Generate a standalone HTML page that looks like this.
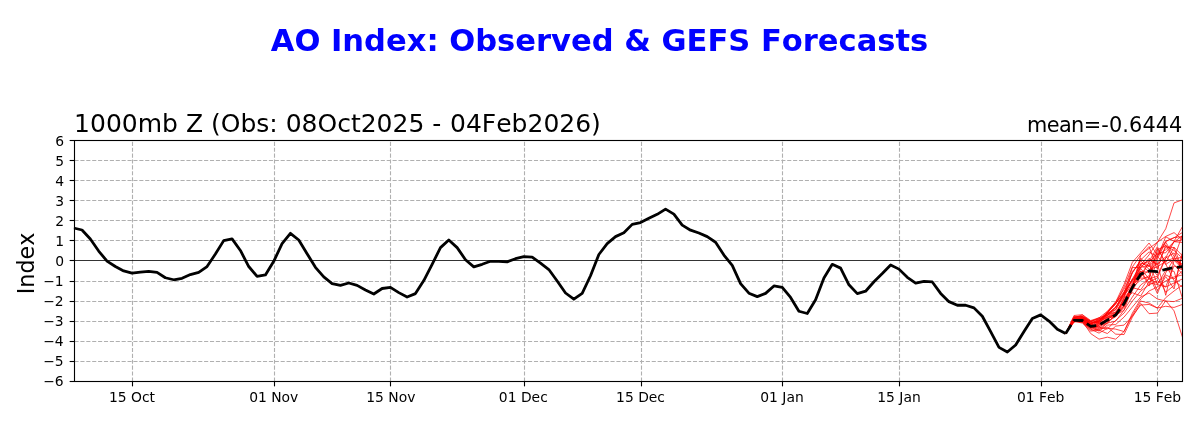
<!DOCTYPE html>
<html lang="en"><head><meta charset="utf-8"><title>AO Index: Observed &amp; GEFS Forecasts</title>
<style>html,body{margin:0;padding:0;background:#fff}body{width:1200px;height:430px;overflow:hidden}svg{display:block;will-change:transform;opacity:0.9999}text{font-kerning:none;font-family:"DejaVu Sans","Liberation Sans",sans-serif;fill:#000}.g{stroke:#b0b0b0;stroke-width:1.11;stroke-dasharray:4.11 1.78;fill:none}.t{stroke:#000;stroke-width:1.11}.m{stroke:#f00;stroke-width:0.72;fill:none;stroke-linejoin:round}.yl{font-size:13.89px;text-anchor:end}.xl{font-size:13.89px;text-anchor:middle}</style></head><body>
<svg width="1200" height="430" viewBox="0 0 1200 430">
<rect width="1200" height="430" fill="#fff"/>
<defs><clipPath id="ax"><rect x="73.67" y="139.84" width="1108.73" height="241.23"/></clipPath></defs>
<text x="599.5" y="50.8" text-anchor="middle" style="font-size:30.56px;font-weight:bold;fill:#00f">AO Index: Observed &amp; GEFS Forecasts</text>
<text x="74.1" y="131.9" style="font-size:25px">1000mb Z (Obs: 08Oct2025 - <tspan dx="0.8">04Feb2026)</tspan></text>
<text x="1182.5" y="131.9" text-anchor="end" style="font-size:20.83px"><tspan letter-spacing="-0.6">mean</tspan><tspan letter-spacing="0.12">=-0.6444</tspan></text>
<text transform="translate(34.3,263.4) rotate(-90)" text-anchor="middle" style="font-size:22.22px">Index</text>
<g class="g">
<path d="M132.5,381.5 V140.5"/>
<path d="M274.5,381.5 V140.5"/>
<path d="M390.5,381.5 V140.5"/>
<path d="M524.5,381.5 V140.5"/>
<path d="M641.5,381.5 V140.5"/>
<path d="M782.5,381.5 V140.5"/>
<path d="M899.5,381.5 V140.5"/>
<path d="M1041.5,381.5 V140.5"/>
<path d="M1157.5,381.5 V140.5"/>
<path d="M74.5,361.5 H1182.5"/>
<path d="M74.5,341.5 H1182.5"/>
<path d="M74.5,321.5 H1182.5"/>
<path d="M74.5,301.5 H1182.5"/>
<path d="M74.5,281.5 H1182.5"/>
<path d="M74.5,240.5 H1182.5"/>
<path d="M74.5,220.5 H1182.5"/>
<path d="M74.5,200.5 H1182.5"/>
<path d="M74.5,180.5 H1182.5"/>
<path d="M74.5,160.5 H1182.5"/>
</g>
<g clip-path="url(#ax)">
<g class="m">
<path d="M1065.69,333.55 L1074.03,319.10 L1082.36,318.10 L1090.70,323.12 L1099.03,321.11 L1107.37,315.09 L1115.71,307.06 L1124.04,295.02 L1132.38,278.96 L1140.72,264.91 L1149.05,254.88 L1157.39,242.23 L1165.73,228.79 L1174.06,202.90 L1182.40,199.89 L1190.73,200.69 L1199.07,202.70"/>
<path d="M1065.69,333.55 L1074.03,320.11 L1082.36,321.11 L1090.70,333.55 L1099.03,339.17 L1107.37,337.17 L1115.71,339.17 L1124.04,331.55 L1132.38,313.08 L1140.72,299.03 L1149.05,291.00 L1157.39,286.99 L1165.73,280.97 L1174.06,276.96 L1182.40,274.95 L1190.73,272.94 L1199.07,270.94"/>
<path d="M1065.69,333.55 L1074.03,321.11 L1082.36,322.11 L1090.70,330.14 L1099.03,329.14 L1107.37,327.13 L1115.71,334.16 L1124.04,334.56 L1132.38,317.10 L1140.72,303.45 L1149.05,313.68 L1157.39,313.08 L1165.73,300.64 L1174.06,310.87 L1182.40,336.97 L1190.73,345.19 L1199.07,341.18"/>
<path d="M1065.69,333.55 L1074.03,321.11 L1082.36,323.12 L1090.70,331.14 L1099.03,330.14 L1107.37,333.55 L1115.71,326.13 L1124.04,325.12 L1132.38,316.09 L1140.72,305.05 L1149.05,304.45 L1157.39,308.06 L1165.73,297.63 L1174.06,291.00 L1182.40,284.98 L1190.73,280.97 L1199.07,276.96"/>
<path d="M1065.69,333.55 L1074.03,320.71 L1082.36,322.11 L1090.70,329.14 L1099.03,333.15 L1107.37,328.13 L1115.71,329.14 L1124.04,331.55 L1132.38,315.09 L1140.72,301.04 L1149.05,303.05 L1157.39,308.06 L1165.73,306.26 L1174.06,307.46 L1182.40,304.45 L1190.73,301.04 L1199.07,299.03"/>
<path d="M1065.69,333.55 L1074.03,319.10 L1082.36,320.11 L1090.70,327.13 L1099.03,331.14 L1107.37,325.12 L1115.71,324.52 L1124.04,317.10 L1132.38,307.06 L1140.72,297.03 L1149.05,293.01 L1157.39,299.03 L1165.73,301.04 L1174.06,301.64 L1182.40,298.23 L1190.73,295.02 L1199.07,293.01"/>
<path d="M1065.69,333.55 L1074.03,319.50 L1082.36,321.11 L1090.70,328.13 L1099.03,327.13 L1107.37,329.14 L1115.71,320.31 L1124.04,313.08 L1132.38,301.04 L1140.72,291.00 L1149.05,284.98 L1157.39,280.97 L1165.73,286.99 L1174.06,282.98 L1182.40,278.96 L1190.73,276.96 L1199.07,274.95"/>
<path d="M1065.69,333.55 L1074.03,320.11 L1082.36,320.71 L1090.70,326.13 L1099.03,330.14 L1107.37,323.12 L1115.71,321.11 L1124.04,310.07 L1132.38,297.03 L1140.72,284.98 L1149.05,278.96 L1157.39,282.98 L1165.73,274.95 L1174.06,278.96 L1182.40,270.94 L1190.73,268.93 L1199.07,266.92"/>
<path d="M1065.69,333.55 L1074.03,315.49 L1082.36,314.69 L1090.70,320.51 L1099.03,317.90 L1107.37,311.28 L1115.71,302.04 L1124.04,284.38 L1132.38,262.30 L1140.72,252.87 L1149.05,243.04 L1157.39,254.88 L1165.73,249.86 L1174.06,241.83 L1182.40,235.81 L1190.73,236.82 L1199.07,238.82"/>
<path d="M1065.69,333.55 L1074.03,317.10 L1082.36,316.09 L1090.70,321.11 L1099.03,319.10 L1107.37,313.08 L1115.71,304.05 L1124.04,286.99 L1132.38,266.92 L1140.72,254.88 L1149.05,248.46 L1157.39,242.23 L1165.73,236.41 L1174.06,232.60 L1182.40,239.83 L1190.73,242.84 L1199.07,244.84"/>
<path d="M1065.69,333.55 L1074.03,318.10 L1082.36,317.50 L1090.70,322.11 L1099.03,320.11 L1107.37,314.09 L1115.71,307.06 L1124.04,293.01 L1132.38,272.94 L1140.72,259.90 L1149.05,251.87 L1157.39,256.89 L1165.73,236.82 L1174.06,241.23 L1182.40,226.78 L1190.73,228.79 L1199.07,230.79"/>
<path d="M1065.69,333.55 L1074.03,322.07 L1082.36,321.09 L1090.70,327.17 L1099.03,328.50 L1107.37,322.68 L1115.71,314.75 L1124.04,300.06 L1132.38,292.73 L1140.72,295.98 L1149.05,281.91 L1157.39,277.88 L1165.73,257.89 L1174.06,252.91 L1182.40,268.15 L1190.73,278.44 L1199.07,237.02"/>
<path d="M1065.69,333.55 L1074.03,321.47 L1082.36,316.67 L1090.70,321.79 L1099.03,317.62 L1107.37,315.17 L1115.71,309.85 L1124.04,296.40 L1132.38,282.78 L1140.72,271.38 L1149.05,272.32 L1157.39,290.54 L1165.73,276.59 L1174.06,288.96 L1182.40,252.73 L1190.73,272.26 L1199.07,262.18"/>
<path d="M1065.69,333.55 L1074.03,319.24 L1082.36,320.17 L1090.70,323.36 L1099.03,321.59 L1107.37,311.84 L1115.71,303.51 L1124.04,291.61 L1132.38,280.29 L1140.72,264.05 L1149.05,261.58 L1157.39,246.59 L1165.73,264.39 L1174.06,258.97 L1182.40,257.15 L1190.73,259.54 L1199.07,261.32"/>
<path d="M1065.69,333.55 L1074.03,319.62 L1082.36,318.44 L1090.70,323.34 L1099.03,322.05 L1107.37,315.59 L1115.71,307.86 L1124.04,292.73 L1132.38,279.12 L1140.72,271.42 L1149.05,286.07 L1157.39,258.99 L1165.73,242.07 L1174.06,256.46 L1182.40,269.65 L1190.73,288.13 L1199.07,274.03"/>
<path d="M1065.69,333.55 L1074.03,320.15 L1082.36,321.07 L1090.70,323.46 L1099.03,320.97 L1107.37,313.16 L1115.71,302.83 L1124.04,293.83 L1132.38,286.49 L1140.72,264.51 L1149.05,271.86 L1157.39,252.95 L1165.73,252.81 L1174.06,241.61 L1182.40,239.79 L1190.73,284.64 L1199.07,261.20"/>
<path d="M1065.69,333.55 L1074.03,319.73 L1082.36,318.08 L1090.70,323.36 L1099.03,320.75 L1107.37,314.27 L1115.71,307.32 L1124.04,295.52 L1132.38,279.55 L1140.72,278.20 L1149.05,277.66 L1157.39,249.64 L1165.73,245.87 L1174.06,250.56 L1182.40,258.09 L1190.73,256.95 L1199.07,251.07"/>
<path d="M1065.69,333.55 L1074.03,319.79 L1082.36,318.96 L1090.70,325.43 L1099.03,321.27 L1107.37,313.58 L1115.71,312.72 L1124.04,301.82 L1132.38,284.64 L1140.72,267.00 L1149.05,259.68 L1157.39,264.47 L1165.73,256.63 L1174.06,264.47 L1182.40,274.17 L1190.73,239.26 L1199.07,239.91"/>
<path d="M1065.69,333.55 L1074.03,319.97 L1082.36,318.18 L1090.70,326.61 L1099.03,323.54 L1107.37,312.06 L1115.71,301.82 L1124.04,289.18 L1132.38,272.60 L1140.72,260.68 L1149.05,269.33 L1157.39,266.94 L1165.73,261.20 L1174.06,257.97 L1182.40,235.07 L1190.73,245.75 L1199.07,270.31"/>
<path d="M1065.69,333.55 L1074.03,320.29 L1082.36,320.81 L1090.70,327.31 L1099.03,323.76 L1107.37,319.30 L1115.71,313.36 L1124.04,297.89 L1132.38,271.30 L1140.72,262.95 L1149.05,266.22 L1157.39,248.54 L1165.73,262.43 L1174.06,247.23 L1182.40,255.70 L1190.73,251.85 L1199.07,277.04"/>
<path d="M1065.69,333.55 L1074.03,318.00 L1082.36,317.60 L1090.70,324.36 L1099.03,327.13 L1107.37,319.71 L1115.71,313.72 L1124.04,306.08 L1132.38,285.51 L1140.72,277.36 L1149.05,262.06 L1157.39,253.35 L1165.73,241.41 L1174.06,237.60 L1182.40,236.62 L1190.73,256.81 L1199.07,254.08"/>
<path d="M1065.69,333.55 L1074.03,319.77 L1082.36,318.76 L1090.70,324.26 L1099.03,318.90 L1107.37,315.57 L1115.71,311.80 L1124.04,301.54 L1132.38,286.17 L1140.72,274.79 L1149.05,262.69 L1157.39,284.42 L1165.73,270.35 L1174.06,271.30 L1182.40,298.15 L1190.73,295.88 L1199.07,255.84"/>
<path d="M1065.69,333.55 L1074.03,316.51 L1082.36,316.69 L1090.70,321.13 L1099.03,318.64 L1107.37,317.68 L1115.71,315.01 L1124.04,310.33 L1132.38,287.75 L1140.72,289.80 L1149.05,277.86 L1157.39,256.30 L1165.73,241.49 L1174.06,237.72 L1182.40,232.50 L1190.73,279.69 L1199.07,287.33"/>
<path d="M1065.69,333.55 L1074.03,322.03 L1082.36,318.18 L1090.70,327.35 L1099.03,324.80 L1107.37,323.54 L1115.71,313.54 L1124.04,298.25 L1132.38,287.35 L1140.72,258.21 L1149.05,266.70 L1157.39,256.81 L1165.73,264.05 L1174.06,280.79 L1182.40,287.17 L1190.73,285.45 L1199.07,271.32"/>
<path d="M1065.69,333.55 L1074.03,321.29 L1082.36,322.25 L1090.70,328.54 L1099.03,325.51 L1107.37,318.16 L1115.71,316.53 L1124.04,306.38 L1132.38,284.72 L1140.72,271.32 L1149.05,282.90 L1157.39,284.50 L1165.73,286.83 L1174.06,265.82 L1182.40,270.05 L1190.73,266.10 L1199.07,231.84"/>
<path d="M1065.69,333.55 L1074.03,317.50 L1082.36,316.35 L1090.70,323.14 L1099.03,322.47 L1107.37,316.59 L1115.71,312.62 L1124.04,305.64 L1132.38,290.62 L1140.72,276.35 L1149.05,270.45 L1157.39,263.39 L1165.73,295.30 L1174.06,260.34 L1182.40,268.53 L1190.73,282.80 L1199.07,282.42"/>
<path d="M1065.69,333.55 L1074.03,318.44 L1082.36,318.84 L1090.70,324.32 L1099.03,327.03 L1107.37,321.53 L1115.71,316.71 L1124.04,307.38 L1132.38,286.85 L1140.72,255.14 L1149.05,246.53 L1157.39,269.35 L1165.73,244.72 L1174.06,260.24 L1182.40,263.99 L1190.73,274.91 L1199.07,261.90"/>
<path d="M1065.69,333.55 L1074.03,319.08 L1082.36,319.36 L1090.70,325.47 L1099.03,325.22 L1107.37,317.24 L1115.71,313.90 L1124.04,302.89 L1132.38,286.89 L1140.72,280.13 L1149.05,275.75 L1157.39,293.67 L1165.73,272.88 L1174.06,258.59 L1182.40,265.38 L1190.73,236.56 L1199.07,262.39"/>
<path d="M1065.69,333.55 L1074.03,317.82 L1082.36,316.75 L1090.70,323.66 L1099.03,320.05 L1107.37,312.58 L1115.71,303.61 L1124.04,293.01 L1132.38,280.99 L1140.72,267.30 L1149.05,265.70 L1157.39,275.43 L1165.73,257.69 L1174.06,241.65 L1182.40,242.48 L1190.73,230.53 L1199.07,236.17"/>
<path d="M1065.69,333.55 L1074.03,319.02 L1082.36,319.46 L1090.70,326.61 L1099.03,322.25 L1107.37,317.16 L1115.71,314.03 L1124.04,299.53 L1132.38,287.93 L1140.72,268.49 L1149.05,278.86 L1157.39,276.15 L1165.73,292.29 L1174.06,285.45 L1182.40,254.40 L1190.73,256.20 L1199.07,274.01"/>
<path d="M1065.69,333.55 L1074.03,317.76 L1082.36,314.95 L1090.70,321.69 L1099.03,323.84 L1107.37,313.26 L1115.71,309.59 L1124.04,293.33 L1132.38,267.40 L1140.72,267.78 L1149.05,258.37 L1157.39,264.57 L1165.73,247.09 L1174.06,247.49 L1182.40,269.09 L1190.73,257.17 L1199.07,238.64"/>
</g>
<path d="M73.67,227.99 L82.01,229.99 L90.34,239.02 L98.68,251.07 L107.02,261.10 L115.35,266.52 L123.69,270.94 L132.02,273.14 L140.36,272.14 L148.70,271.34 L157.03,272.34 L165.37,277.76 L173.71,279.77 L182.04,278.36 L190.38,274.55 L198.71,272.34 L207.05,266.52 L215.39,254.08 L223.72,240.63 L232.06,238.82 L240.40,250.46 L248.73,266.52 L257.07,276.35 L265.40,274.95 L273.74,261.30 L282.08,243.64 L290.41,233.30 L298.75,240.03 L307.09,253.67 L315.42,267.32 L323.76,276.96 L332.10,283.58 L340.43,285.39 L348.77,282.98 L357.10,285.39 L365.44,290.00 L373.78,294.02 L382.11,288.50 L390.45,287.39 L398.79,292.61 L407.12,297.03 L415.46,293.61 L423.79,280.57 L432.13,264.31 L440.47,247.65 L448.80,240.03 L457.14,247.65 L465.48,259.70 L473.81,266.92 L482.15,264.31 L490.49,261.30 L498.82,261.30 L507.16,261.90 L515.49,258.69 L523.83,256.69 L532.17,257.09 L540.50,263.11 L548.84,269.53 L557.18,280.97 L565.51,293.01 L573.85,299.23 L582.18,293.41 L590.52,275.75 L598.86,254.48 L607.19,243.64 L615.53,236.62 L623.87,232.80 L632.20,224.37 L640.54,222.57 L648.87,218.35 L657.21,214.34 L665.55,209.12 L673.88,214.14 L682.22,225.18 L690.56,230.19 L698.89,233.00 L707.23,236.62 L715.57,242.23 L723.90,255.08 L732.24,265.32 L740.57,283.58 L748.91,293.21 L757.25,296.62 L765.58,293.41 L773.92,285.99 L782.26,287.39 L790.59,297.43 L798.93,311.28 L807.26,313.48 L815.60,299.84 L823.94,277.96 L832.27,264.31 L840.61,268.13 L848.95,284.78 L857.28,293.61 L865.62,291.21 L873.95,281.77 L882.29,273.54 L890.63,264.91 L898.96,269.13 L907.30,277.36 L915.64,283.18 L923.97,281.37 L932.31,281.97 L940.65,293.41 L948.98,301.64 L957.32,305.25 L965.65,305.25 L973.99,307.86 L982.33,316.29 L990.66,331.55 L999.00,347.40 L1007.34,352.02 L1015.67,344.99 L1024.01,331.55 L1032.34,318.50 L1040.68,314.89 L1049.02,321.11 L1057.35,329.34 L1065.69,333.55" fill="none" stroke="#000" stroke-width="2.78" stroke-linejoin="round" stroke-linecap="butt"/>
<path d="M1065.69,333.55 L1074.03,320.31 L1082.36,320.51 L1090.70,326.33 L1099.03,325.12 L1107.37,320.11 L1115.71,314.89 L1124.04,303.65 L1132.38,287.39 L1140.72,274.15 L1149.05,270.94 L1157.39,271.54 L1165.73,269.33 L1174.06,267.52 L1182.40,266.72 L1190.73,265.92 L1199.07,264.91" fill="none" stroke="#000" stroke-width="2.78" stroke-dasharray="10.28 4.44" stroke-linejoin="round"/>
<path d="M74.5,260.5 H1182.5" stroke="#000" stroke-width="0.8" fill="none"/>
</g>
<rect x="74.5" y="140.5" width="1108.0" height="241.00" fill="none" stroke="#000" stroke-width="1.11"/>
<g class="t">
<path d="M132.5,381.5 v4.86"/>
<path d="M274.5,381.5 v4.86"/>
<path d="M390.5,381.5 v4.86"/>
<path d="M524.5,381.5 v4.86"/>
<path d="M641.5,381.5 v4.86"/>
<path d="M782.5,381.5 v4.86"/>
<path d="M899.5,381.5 v4.86"/>
<path d="M1041.5,381.5 v4.86"/>
<path d="M1157.5,381.5 v4.86"/>
<path d="M74.5,381.5 h-4.86"/>
<path d="M74.5,361.5 h-4.86"/>
<path d="M74.5,341.5 h-4.86"/>
<path d="M74.5,321.5 h-4.86"/>
<path d="M74.5,301.5 h-4.86"/>
<path d="M74.5,281.5 h-4.86"/>
<path d="M74.5,260.5 h-4.86"/>
<path d="M74.5,240.5 h-4.86"/>
<path d="M74.5,220.5 h-4.86"/>
<path d="M74.5,200.5 h-4.86"/>
<path d="M74.5,180.5 h-4.86"/>
<path d="M74.5,160.5 h-4.86"/>
<path d="M74.5,140.5 h-4.86"/>
</g>
<g class="xl">
<text x="132.02" y="401.8">15 Oct</text>
<text x="273.74" y="401.8">01 Nov</text>
<text x="390.85" y="401.8">15 Nov</text>
<text x="523.33" y="401.8">01 Dec</text>
<text x="640.54" y="401.8">15 Dec</text>
<text x="781.96" y="401.8">01 Jan</text>
<text x="898.96" y="401.8">15 Jan</text>
<text x="1040.68" y="401.8">01 Feb</text>
<text x="1157.39" y="401.8">15 Feb</text>
</g><g class="yl">
<text x="63.65" y="385.90">−6</text>
<text x="63.65" y="365.90">−5</text>
<text x="63.65" y="345.90">−4</text>
<text x="63.65" y="325.90">−3</text>
<text x="63.65" y="305.90">−2</text>
<text x="63.65" y="285.90">−1</text>
<text x="64.0" y="265.90">0</text>
<text x="64.0" y="245.90">1</text>
<text x="64.0" y="225.90">2</text>
<text x="64.0" y="205.90">3</text>
<text x="64.0" y="185.90">4</text>
<text x="64.0" y="165.90">5</text>
<text x="64.0" y="145.90">6</text>
</g>
</svg></body></html>
